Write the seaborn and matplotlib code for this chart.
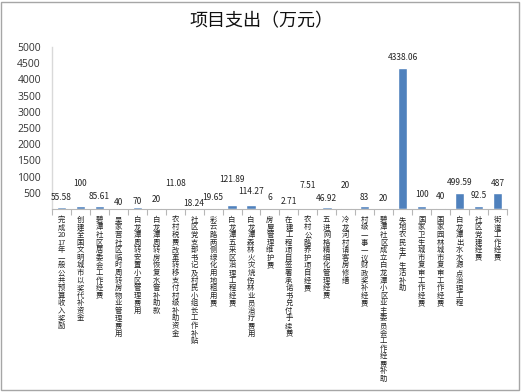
import re
import numpy as np
import pandas as pd
import matplotlib
matplotlib.use("Agg")
import matplotlib.pyplot as plt
from matplotlib.patches import Rectangle
import seaborn as sns

# ---- data -------------------------------------------------------------------
categories = [
    "完成2017年一般公共预算收入奖励",
    "创建全国文明城市以奖代补资金",
    "碧潭社区居委会工作经费",
    "吴家营社区临时周转房物业管理费用",
    "白龙潭周转安置小区管理费用",
    "白龙潭周转房恢复水管补助款",
    "农村税费改革转移支付村级补助资金",
    "社区党支部书记及村民小组长工作补贴",
    "彩云路两侧绿化用地租用费",
    "白龙潭五采区治理工程经费",
    "白龙潭森林火灾烧伤林业员治疗费用",
    "房屋管理维护费",
    "在建工程项目签署承诺书兑付手续费",
    "农村公路养护项目经费",
    "五进网格精细化管理经费",
    "冷龙河村请客房修缮",
    "村级一事一议财政奖补经费",
    "碧潭社区成立白龙潭小区业主委员会工作经费补助",
    "失地农民生产生活补助",
    "国家卫生城市复审工作经费",
    "国家园林城市复审工作经费",
    "白龙潭出水水源点治理工程",
    "社区党建经费",
    "街道工作经费",
]
values = [55.58, 100, 85.61, 40, 70, 20, 11.08, 18.24, 19.65, 121.89,
          114.27, 6, 2.71, 7.51, 46.92, 20, 83, 20, 4338.06, 100,
          40, 499.59, 92.5, 487]
value_labels = ["55.58", "100", "85.61", "40", "70", "20", "11.08", "18.24",
                "19.65", "121.89", "114.27", "6", "2.71", "7.51", "46.92",
                "20", "83", "20", "4338.06", "100", "40", "499.59", "92.5",
                "487"]
y_ticks = [0, 500, 1000, 1500, 2000, 2500, 3000, 3500, 4000, 4500, 5000]

# label lift above bar top (pixels) - the original labels are staggered
LABEL_LIFT = [10, 22, 10, 5, 5, 9, 25, 5, 11, 25, 14, 11, 7, 23, 9, 23,
              9, 10, 11, 11, 11, 10, 10, 10]

# ---- style ------------------------------------------------------------------
BAR_BLUE = "#4F81BD"
AXIS_GREY = "#B7B7B7"

sns.set_theme(style="white")
plt.rcParams["font.family"] = ["Noto Sans CJK SC", "DejaVu Sans"]


def stack(label):
    # one character per line, digits kept in pairs (as Excel does)
    parts = re.findall(r"\d{1,2}|\D", label)
    return "\n".join(parts)


df = pd.DataFrame({"item": categories, "amount": values})

fig = plt.figure(figsize=(5.22, 3.92), dpi=100)
ax = fig.add_axes([0.0996, 0.467, 0.8714, 0.413])

sns.barplot(data=df, x="item", y="amount", color=BAR_BLUE, width=0.5,
            saturation=1, ax=ax)

for i, (v, lab) in enumerate(zip(values, value_labels)):
    ax.annotate(lab, xy=(i, v), xytext=(0, LABEL_LIFT[i]),
                textcoords="offset pixels", ha="center", va="center",
                fontsize=6, color="#222222")

ax.set_ylim(0, 5000)
ax.set_xlim(-0.5, len(categories) - 0.5)
ax.set_yticks(y_ticks)
ax.set_yticklabels([str(t) if t else "" for t in y_ticks],
                   family="Open Sans", fontsize=7.5, color="#333333")
ax.tick_params(axis="y", length=0, pad=8)

# vertical stacked category labels
ax.set_xticks(range(len(categories)))
ax.set_xticklabels([stack(c) for c in categories], fontsize=5.3,
                   linespacing=0.93, va="top", color="#222222")
ax.tick_params(axis="x", which="major", length=0, pad=5)
ax.set_xticks(np.arange(-0.5, len(categories), 1), minor=True)
ax.tick_params(axis="x", which="minor", length=4, color=AXIS_GREY,
               width=0.8, direction="out", bottom=True)

ax.set_xlabel("")
ax.set_ylabel("")
for s in ["top", "right"]:
    ax.spines[s].set_visible(False)
ax.spines["left"].set_color("#D9D9D9")
ax.spines["bottom"].set_color(AXIS_GREY)
ax.spines["left"].set_linewidth(1)
ax.spines["bottom"].set_linewidth(0.8)

fig.text(0.5, 0.945, "项目支出（万元）", ha="center", va="center",
         fontsize=13, color="#111111")

# outer frame like the original chart area
fig.patches.append(Rectangle((0.002, 0.006), 0.992, 0.99, transform=fig.transFigure,
                             fill=False, edgecolor="#A6A6A6", linewidth=1))

fig.savefig("out.png", dpi=100)
